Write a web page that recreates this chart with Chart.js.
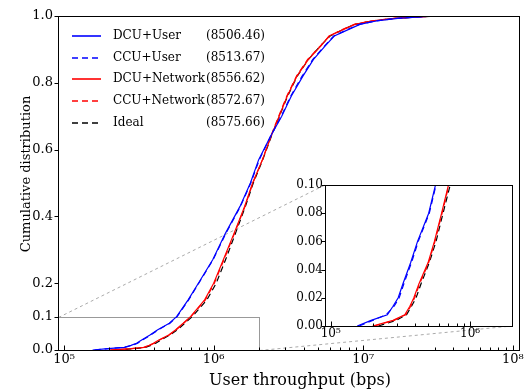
<!DOCTYPE html>
<html>
<head>
<meta charset="utf-8">
<script src="https://cdn.jsdelivr.net/npm/chart.js@4.4.1/dist/chart.umd.min.js"></script>
<style>
  body { margin: 0; background: #fff; }
  #wrap { position: relative; width: 531px; height: 390px; }
  #main { position: absolute; left: 0; top: 0; }
  #inset { position: absolute; left: 275px; top: 175px; }
</style>
</head>
<body>
<div id="wrap">
  <canvas id="main" width="531" height="390"></canvas>
  <canvas id="inset" width="245" height="175"></canvas>
</div>
<script>
// cumulative probability levels, and throughput (bps) of each scheme at those levels
const cdfLevels = [0, 0.004, 0.008, 0.014, 0.02, 0.03, 0.045, 0.06, 0.08, 0.1, 0.15, 0.2, 0.27, 0.35, 0.43,
  0.5, 0.57, 0.64, 0.7, 0.76, 0.82, 0.87, 0.91, 0.94, 0.96, 0.975, 0.985, 0.993, 1.0]

const dcuUser = [1.55e5, 1.95e5, 2.55e5, 2.8e5, 3.05e5, 3.3e5, 3.75e5, 4.2e5, 5.05e5, 5.65e5, 6.75e5, 7.9e5, 9.85e5, 1.2e6, 1.5e6,
  1.76e6, 2.0e6, 2.4e6, 2.85e6, 3.3e6, 3.95e6, 4.65e6, 5.55e6, 6.4e6, 8.0e6, 9.5e6, 1.22e7, 1.7e7, 3.0e7]
const ccuUser = [1.6e5, 2.0e5, 2.5e5, 2.85e5, 3.1e5, 3.35e5, 3.8e5, 4.25e5, 5.1e5, 5.7e5, 6.8e5, 7.95e5, 9.9e5, 1.21e6, 1.51e6,
  1.77e6, 2.02e6, 2.4e6, 2.83e6, 3.27e6, 3.9e6, 4.6e6, 5.5e6, 6.35e6, 7.9e6, 9.4e6, 1.21e7, 1.68e7, 2.9e7]
const dcuNetwork = [2.0e5, 2.8e5, 3.4e5, 3.7e5, 3.95e5, 4.3e5, 5.0e5, 5.55e5, 6.25e5, 7.0e5, 8.7e5, 1.0e6, 1.16e6, 1.37e6, 1.61e6,
  1.82e6, 2.12e6, 2.42e6, 2.74e6, 3.1e6, 3.6e6, 4.3e6, 5.2e6, 5.9e6, 7.4e6, 8.8e6, 1.13e7, 1.62e7, 3.1e7]
const ccuNetwork = [2.05e5, 2.85e5, 3.45e5, 3.75e5, 4.0e5, 4.35e5, 5.05e5, 5.6e5, 6.3e5, 7.05e5, 8.8e5, 1.01e6, 1.17e6, 1.38e6, 1.62e6,
  1.83e6, 2.12e6, 2.41e6, 2.72e6, 3.08e6, 3.58e6, 4.25e6, 5.15e6, 5.95e6, 7.3e6, 8.7e6, 1.12e7, 1.6e7, 3.0e7]
const ideal = [2.2e5, 2.95e5, 3.5e5, 3.8e5, 4.1e5, 4.45e5, 5.1e5, 5.7e5, 6.4e5, 7.2e5, 9.0e5, 1.04e6, 1.2e6, 1.4e6, 1.63e6,
  1.84e6, 2.13e6, 2.43e6, 2.75e6, 3.12e6, 3.62e6, 4.3e6, 5.15e6, 6.0e6, 7.35e6, 8.8e6, 1.15e7, 1.62e7, 3.05e7]

const seriesNames = ['DCU+User', 'CCU+User', 'DCU+Network', 'CCU+Network', 'Ideal']
const meanThroughput = [8506.46, 8513.67, 8556.62, 8572.67, 8575.66]

const mainXTicks = [1e5, 1e6, 1e7, 1e8]
const mainYTicks = [0, 0.1, 0.2, 0.4, 0.6, 0.8, 1.0]
const insetXTicks = [1e5, 1e6]
const insetYTicks = [0, 0.02, 0.04, 0.06, 0.08, 0.1]

const xRange = [9.1e4, 1.1e8]
const zoomX = 2e6
const zoomY = 0.1

const FONT = 'DejaVu Serif'
const INSET_LEFT = 275
const INSET_TOP = 175

Chart.defaults.font.family = FONT
Chart.defaults.color = '#000'

const styles = [
  { color: '#0000ff', dash: [] },
  { color: '#0000ff', dash: [6, 4] },
  { color: '#ff0000', dash: [] },
  { color: '#ff0000', dash: [6, 4] },
  { color: '#000000', dash: [6, 4] }
]
const seriesValues = [dcuUser, ccuUser, dcuNetwork, ccuNetwork, ideal]

const makeDatasets = () => seriesValues.map((vals, i) => ({
  label: seriesNames[i],
  data: vals.map((x, k) => ({ x, y: cdfLevels[k] })),
  borderColor: styles[i].color,
  borderDash: styles[i].dash,
  borderWidth: 1.2,
  pointRadius: 0,
  tension: 0,
  fill: false
}))

const minorTicks = (lo, hi) => {
  const out = []
  for (let d = 1e4; d < 1e9; d *= 10)
    for (let m = 2; m <= 9; m++) if (d * m > lo && d * m < hi) out.push(d * m)
  return out
}

const sup = '⁰¹²³⁴⁵⁶⁷⁸⁹'
const pow10 = v => '10' + sup[Math.round(Math.log10(v))]

// frame + hand drawn tick marks (x inward, y outward)
const tickMarks = {
  id: 'tickMarks',
  afterDraw(chart, args, o) {
    const { ctx, chartArea: a, scales: { x, y } } = chart
    const L = Math.round(a.left) + 0.5, R = Math.round(a.right) + 0.5
    const T = Math.round(a.top) + 0.5, B = Math.round(a.bottom) + 0.5
    ctx.save()
    ctx.strokeStyle = '#000'
    ctx.lineWidth = 1
    ctx.beginPath()
    o.xMajor.forEach(v => {
      const px = Math.round(x.getPixelForValue(v)) + 0.5
      ctx.moveTo(px, B); ctx.lineTo(px, B - 5)
    })
    o.xMinor.forEach(v => {
      const px = Math.round(x.getPixelForValue(v)) + 0.5
      ctx.moveTo(px, B); ctx.lineTo(px, B - 3)
    })
    o.yMajor.forEach(v => {
      const py = Math.round(y.getPixelForValue(v)) + 0.5
      ctx.moveTo(L, py); ctx.lineTo(L - 4, py)
    })
    ctx.stroke()
    ctx.strokeRect(L, T, R - L, B - T)
    ctx.restore()
  }
}

const whiteArea = {
  id: 'whiteArea',
  beforeDraw(chart) {
    const { ctx, chartArea: a } = chart
    ctx.save()
    ctx.fillStyle = '#fff'
    ctx.fillRect(a.left, a.top, a.width, a.height)
    ctx.restore()
  }
}

const axisCfg = (type, min, max, tickVals, fmt, size, pad) => ({
  type, min, max,
  afterBuildTicks: s => { s.ticks = tickVals.map(value => ({ value })) },
  grid: { display: false, drawTicks: false },
  border: { display: false },
  ticks: { autoSkip: false, maxRotation: 0, padding: pad, font: { size }, color: '#000', callback: fmt }
})

const inset = new Chart(document.getElementById('inset'), {
  type: 'line',
  data: { datasets: makeDatasets() },
  options: {
    responsive: false,
    animation: false,
    layout: { padding: { top: 10, right: 8, left: 0, bottom: 0 } },
    plugins: {
      legend: { display: false },
      tooltip: { enabled: false },
      tickMarks: { xMajor: insetXTicks, xMinor: minorTicks(xRange[0], zoomX), yMajor: insetYTicks }
    },
    scales: {
      x: { ...axisCfg('logarithmic', xRange[0], zoomX, insetXTicks, pow10, 12, 1), afterFit: s => { s.height = 24 } },
      y: { ...axisCfg('linear', 0, zoomY, insetYTicks, v => v.toFixed(2), 12, 2), afterFit: s => { s.width = 50 } }
    }
  },
  plugins: [whiteArea, tickMarks]
})

// zoom box on the main axes and dashed connectors to the inset corners
const zoomMarks = {
  id: 'zoomMarks',
  beforeDatasetsDraw(chart) {
    const { ctx, chartArea: a, scales: { x, y } } = chart
    const ia = inset.chartArea
    const L = Math.round(a.left) + 0.5
    const R = Math.round(x.getPixelForValue(zoomX)) + 0.5
    const T = Math.round(y.getPixelForValue(zoomY)) + 0.5
    const B = Math.round(a.bottom) + 0.5
    ctx.save()
    ctx.lineWidth = 1
    ctx.strokeStyle = '#999'
    ctx.strokeRect(L, T, R - L, B - T)
    ctx.strokeStyle = '#aaa'
    ctx.setLineDash([3, 3])
    ctx.beginPath()
    ctx.moveTo(L, T); ctx.lineTo(INSET_LEFT + ia.left, INSET_TOP + ia.top)
    ctx.moveTo(R, B); ctx.lineTo(INSET_LEFT + ia.right, INSET_TOP + ia.bottom)
    ctx.stroke()
    ctx.restore()
  }
}

const legendAndTitles = {
  id: 'legendAndTitles',
  afterDraw(chart) {
    const { ctx } = chart
    ctx.save()
    ctx.fillStyle = '#000'
    ctx.textBaseline = 'middle'
    ctx.font = `12px "${FONT}"`
    chart.data.datasets.forEach((ds, i) => {
      const yy = Math.round(36 + i * 21.7)
      ctx.strokeStyle = ds.borderColor
      ctx.setLineDash(ds.borderDash)
      ctx.lineWidth = 1.6
      ctx.beginPath(); ctx.moveTo(72, yy); ctx.lineTo(101, yy); ctx.stroke()
      ctx.textAlign = 'left'
      ctx.fillText(ds.label, 113, yy)
      ctx.textAlign = 'right'
      ctx.fillText(`(${meanThroughput[i].toFixed(2)})`, 265, yy)
    })
    ctx.setLineDash([])
    ctx.textAlign = 'center'
    ctx.font = `16px "${FONT}"`
    ctx.fillText('User throughput (bps)', 300, 381)
    ctx.translate(27, 174)
    ctx.rotate(-Math.PI / 2)
    ctx.font = `13px "${FONT}"`
    ctx.fillText('Cumulative distribution', 0, 0)
    ctx.restore()
  }
}

new Chart(document.getElementById('main'), {
  type: 'line',
  data: { datasets: makeDatasets() },
  options: {
    responsive: false,
    animation: false,
    layout: { padding: { top: 16, right: 12, left: 0, bottom: 0 } },
    plugins: {
      legend: { display: false },
      tooltip: { enabled: false },
      tickMarks: { xMajor: mainXTicks, xMinor: minorTicks(xRange[0], xRange[1]), yMajor: mainYTicks }
    },
    scales: {
      x: { ...axisCfg('logarithmic', xRange[0], xRange[1], mainXTicks, pow10, 13, 2), afterFit: s => { s.height = 40 } },
      y: { ...axisCfg('linear', 0, 1, mainYTicks, v => v.toFixed(1), 13, 5), afterFit: s => { s.width = 58 } }
    }
  },
  plugins: [zoomMarks, tickMarks, legendAndTitles]
})
</script>
</body>
</html>
